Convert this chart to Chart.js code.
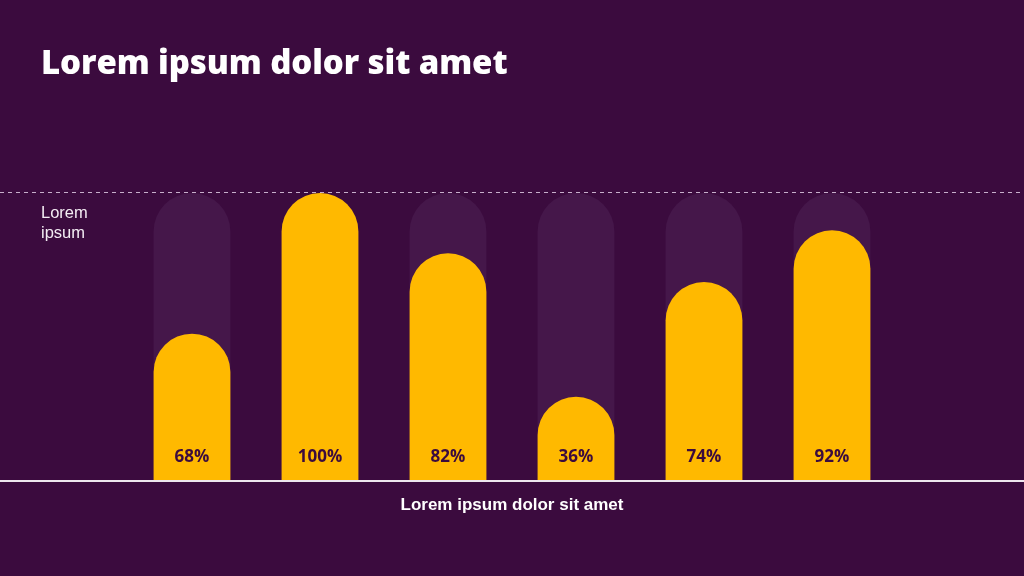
<!DOCTYPE html>
<html>
<head>
<meta charset="utf-8">
<script src="https://cdn.jsdelivr.net/npm/chart.js@4"></script>
<style>
  html, body {
    margin: 0;
    padding: 0;
    background: #3b0b3e;
  }
  #wrap {
    position: relative;
    width: 1024px;
    height: 576px;
    overflow: hidden;
  }
  #title {
    position: absolute;
    left: 41px;
    top: 39px;
    margin: 0;
    color: #ffffff;
    font: 800 33px "Open Sans", sans-serif;
    letter-spacing: -0.1px;
  }
  #ylabel {
    position: absolute;
    left: 41px;
    top: 202px;
    color: #f3ecf3;
    font: 400 16.5px "Liberation Sans", Arial, sans-serif;
    line-height: 20px;
  }
  #xlabel {
    position: absolute;
    left: 0;
    width: 1024px;
    top: 495px;
    text-align: center;
    color: #ffffff;
    font: 700 17px "Liberation Sans", Arial, sans-serif;
  }
  canvas {
    position: absolute;
    left: 0;
    top: 0;
  }
</style>
</head>
<body>
<div id="wrap">
  <canvas id="chart" width="1024" height="576"></canvas>
  <h1 id="title">Lorem ipsum dolor sit amet</h1>
  <div id="ylabel">Lorem<br>ipsum</div>
  <div id="xlabel">Lorem ipsum dolor sit amet</div>
</div>
<script>
  const categories = ["A", "B", "C", "D", "E", "F"];
  const barValues = [51, 100, 79, 29, 69, 87];
  const trackValues = [100, 100, 100, 100, 100, 100];
  const valueLabels = ["68%", "100%", "82%", "36%", "74%", "92%"];

  const guideLines = {
    id: "guideLines",
    beforeDatasetsDraw(chart) {
      const ctx = chart.ctx;
      const y = chart.scales.y.getPixelForValue(100);
      ctx.save();
      ctx.strokeStyle = "rgba(225, 205, 228, 0.85)";
      ctx.lineWidth = 1;
      ctx.setLineDash([4, 4]);
      ctx.beginPath();
      ctx.moveTo(0, Math.round(y) - 0.5);
      ctx.lineTo(chart.width, Math.round(y) - 0.5);
      ctx.stroke();
      ctx.restore();
    },
    afterDatasetsDraw(chart) {
      const ctx = chart.ctx;
      const base = chart.scales.y.getPixelForValue(0);
      ctx.save();
      ctx.strokeStyle = "#eee6ee";
      ctx.lineWidth = 2;
      ctx.beginPath();
      ctx.moveTo(0, base + 1);
      ctx.lineTo(chart.width, base + 1);
      ctx.stroke();

      const meta = chart.getDatasetMeta(1);
      ctx.fillStyle = "#3b0b3e";
      ctx.font = '700 17px "Open Sans", sans-serif';
      ctx.textAlign = "center";
      ctx.textBaseline = "alphabetic";
      meta.data.forEach((bar, i) => {
        ctx.fillText(valueLabels[i], bar.x, base - 18);
      });
      ctx.restore();
    },
  };

  new Chart(document.getElementById("chart"), {
    type: "bar",
    data: {
      labels: categories,
      datasets: [
        {
          label: "track",
          data: trackValues,
          backgroundColor: "#45174a",
          borderRadius: { topLeft: 40, topRight: 40 },
          borderSkipped: "bottom",
          categoryPercentage: 1,
          barPercentage: 0.6,
          grouped: false,
          order: 2,
        },
        {
          label: "value",
          data: barValues,
          backgroundColor: "#ffb900",
          borderRadius: { topLeft: 40, topRight: 40 },
          borderSkipped: "bottom",
          categoryPercentage: 1,
          barPercentage: 0.6,
          grouped: false,
          order: 1,
        },
      ],
    },
    options: {
      responsive: false,
      animation: false,
      layout: {
        padding: { top: 193, bottom: 96, left: 128, right: 128 },
      },
      plugins: {
        legend: { display: false },
        tooltip: { enabled: false },
      },
      scales: {
        x: { display: false },
        y: { display: false, min: 0, max: 100 },
      },
    },
    plugins: [guideLines],
  });
</script>
</body>
</html>
